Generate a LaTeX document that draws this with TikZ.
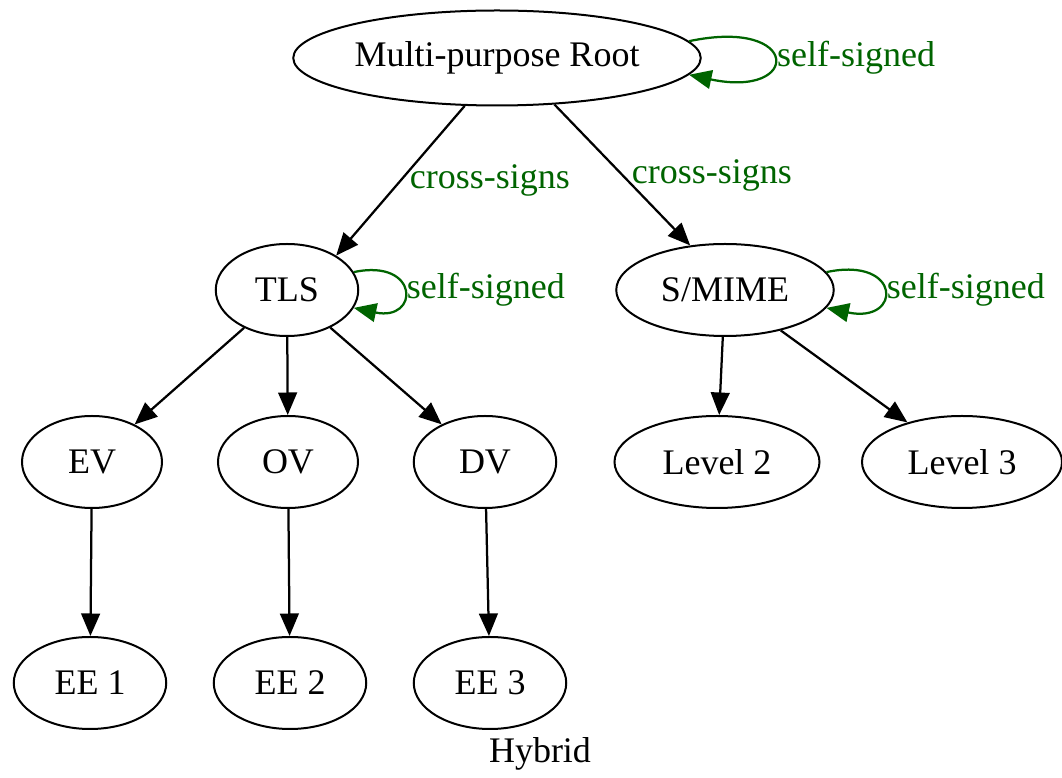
\documentclass[tikz,border=0pt]{standalone}
\usepackage{fontspec}
\setmainfont{Liberation Serif}
\usetikzlibrary{shapes.geometric,arrows.meta}
\definecolor{siggreen}{RGB}{0,100,0}
\begin{document}
\begin{tikzpicture}[x=0.4pt,y=-0.4pt,
  ca/.style={draw=black, ellipse, line width=0.8pt, inner sep=0pt, minimum height=36.8pt, font=\fontsize{14.4}{17}\selectfont},
  sign/.style={draw=black, line width=0.9pt, -{Triangle[length=9pt,width=7.5pt]}},
  selfsign/.style={draw=siggreen, line width=0.9pt, -{Triangle[length=9pt,width=7.5pt]}},
  lbl/.style={text=siggreen, font=\fontsize{14.4}{17}\selectfont}]
\useasboundingbox (0,0) rectangle (1062,778);
% the CAs
\draw (497,58) node[ca, minimum width=163pt, minimum height=38pt](R){Multi-purpose Root}
(287,290) node[ca, minimum width=57pt](TLS){TLS}
(725,290) node[ca, minimum width=87pt](SM){S/MIME};
\draw (92,462) node[ca, minimum width=56pt](EV){EV}
(288,462) node[ca, minimum width=56pt](OV){OV}
(485,462) node[ca, minimum width=57pt](DV){DV}
(717,462) node[ca, minimum width=82pt](L2){Level 2}
(962,462) node[ca, minimum width=80pt](L3){Level 3};
\draw (90,683) node[ca, minimum width=61pt](E1){EE 1}
(290,683) node[ca, minimum width=61pt](E2){EE 2}
(490,683) node[ca, minimum width=61pt](E3){EE 3};
\draw (540,754) node[font=\fontsize{14.4}{17}\selectfont](HY){Hybrid};
% self-signed loops
\draw [selfsign] (R.5) to[out=12, in=-12, distance=46pt] node[lbl, right, inner sep=1pt]{self-signed} (R.-5);
\draw [selfsign] (TLS.15) to[out=12, in=-12, distance=27pt] node[lbl, right, inner sep=1pt]{self-signed} (TLS.-15);
\draw [selfsign] (SM.10) to[out=12, in=-12, distance=31pt] node[lbl, right, inner sep=1pt]{self-signed} (SM.-10);
% cross-signing
\draw [sign] (R.236)--node[lbl, right]{cross-signs}(TLS.35);
\draw [sign] (R.-39)--node[lbl, right]{cross-signs}(SM.128);
% issuing
\draw [sign] (TLS)--(EV);
\draw [sign] (TLS)--(OV);
\draw [sign] (TLS)--(DV);
\draw [sign] (SM)--(L2);
\draw [sign] (SM)--(L3);
\draw [sign] (EV)--(E1);
\draw [sign] (OV)--(E2);
\draw [sign] (DV)--(E3);
\end{tikzpicture}
\end{document}
